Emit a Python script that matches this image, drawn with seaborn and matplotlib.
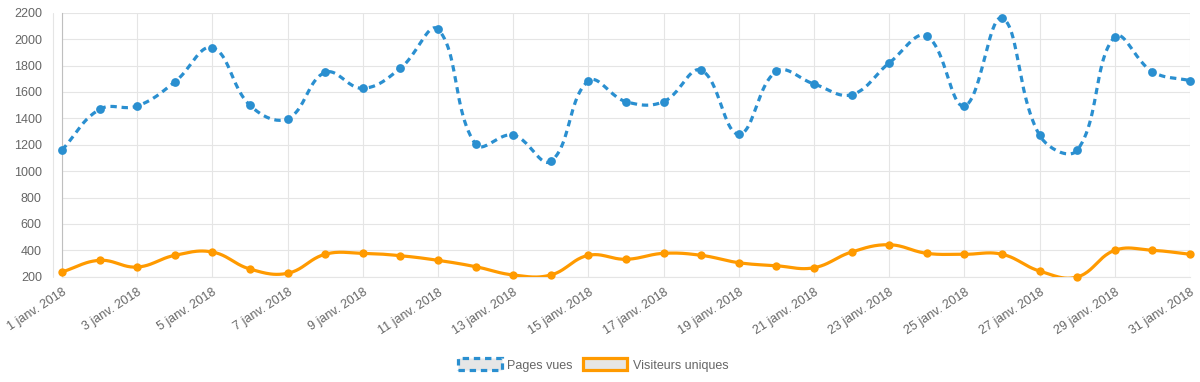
import numpy as np
import pandas as pd
import matplotlib
matplotlib.use("Agg")
import matplotlib.pyplot as plt
import seaborn as sns
from matplotlib.patches import Patch
from matplotlib.lines import Line2D

days = list(range(1, 32))
pages_vues = [1160, 1468, 1493, 1675, 1935, 1498, 1397, 1748, 1627, 1779,
              2074, 1203, 1273, 1074, 1683, 1526, 1526, 1764, 1279, 1756,
              1660, 1579, 1819, 2023, 1493, 2160, 1271, 1158, 2016, 1753, 1685]
visiteurs = [236, 324, 273, 362, 387, 258, 226, 370, 377, 359,
             324, 276, 213, 213, 362, 332, 377, 362, 306, 283,
             268, 387, 442, 377, 370, 370, 243, 198, 400, 400, 370]
tick_days = list(range(1, 32, 2))
tick_labels = [f"{d} janv. 2018" for d in tick_days]
y_ticks = list(range(200, 2201, 200))

BLUE = "#2a8fd0"
ORANGE = "#ff9a00"
GREY_TXT = "#666666"
GRID = "#e5e5e5"

sns.set_theme(style="white")
plt.rcParams["font.family"] = ["Liberation Sans", "DejaVu Sans"]

fig = plt.figure(figsize=(12, 3.82), dpi=100)
ax = fig.add_axes([62 / 1200, 105.3 / 382, (1190 - 62) / 1200, (369.3 - 105.3) / 382])
ax.set_xlim(1, 31)
ax.set_ylim(200, 2200)

# pixel scales (for chart.js-like spline tension computed in pixel space)
sx = (1190 - 62) / 30.0
sy = 264.0 / 2000.0


def spline(xs, ys, tension=0.4, n=24):
    px = np.array(xs, float) * sx
    py = np.array(ys, float) * sy
    m = len(px)
    cp_prev = np.zeros((m, 2))
    cp_next = np.zeros((m, 2))
    for i in range(m):
        p0 = (px[max(i - 1, 0)], py[max(i - 1, 0)])
        p1 = (px[i], py[i])
        p2 = (px[min(i + 1, m - 1)], py[min(i + 1, m - 1)])
        d01 = np.hypot(p1[0] - p0[0], p1[1] - p0[1])
        d12 = np.hypot(p2[0] - p1[0], p2[1] - p1[1])
        tot = d01 + d12 if d01 + d12 else 1
        fa = tension * d01 / tot
        fb = tension * d12 / tot
        cp_prev[i] = (p1[0] - fa * (p2[0] - p0[0]), p1[1] - fa * (p2[1] - p0[1]))
        cp_next[i] = (p1[0] + fb * (p2[0] - p0[0]), p1[1] + fb * (p2[1] - p0[1]))
    out_x, out_y = [], []
    t = np.linspace(0, 1, n, endpoint=False)
    for i in range(m - 1):
        P0 = np.array([px[i], py[i]])
        P1 = cp_next[i]
        P2 = cp_prev[i + 1]
        P3 = np.array([px[i + 1], py[i + 1]])
        pts = ((1 - t) ** 3)[:, None] * P0 + (3 * (1 - t) ** 2 * t)[:, None] * P1 \
            + (3 * (1 - t) * t ** 2)[:, None] * P2 + (t ** 3)[:, None] * P3
        out_x.extend(pts[:, 0])
        out_y.extend(pts[:, 1])
    out_x.append(px[-1])
    out_y.append(py[-1])
    return np.array(out_x) / sx, np.array(out_y) / sy


bx, by = spline(days, pages_vues)
ox, oy = spline(days, visiteurs)

sns.lineplot(x=ox, y=oy, sort=False, ax=ax, color=ORANGE, linewidth=2.3, zorder=3)
sns.scatterplot(x=days, y=visiteurs, ax=ax, color=ORANGE, s=36, edgecolor=ORANGE,
                linewidth=0, zorder=4, clip_on=False)
sns.lineplot(x=bx, y=by, sort=False, ax=ax, color=BLUE, linewidth=2.3, zorder=3)
ax.lines[-1].set_linestyle((0, (2.0, 1.5)))
sns.scatterplot(x=days, y=pages_vues, ax=ax, color=BLUE, s=40, edgecolor=BLUE,
                linewidth=0, zorder=4, clip_on=False)
for c in ax.collections:
    c.set_clip_on(False)

ax.set_xticks(tick_days)
ax.set_xticklabels(tick_labels, rotation=33, ha="right", rotation_mode="anchor")
ax.set_yticks(y_ticks)
ax.set_yticklabels([str(v) for v in y_ticks])
ax.tick_params(axis="both", which="both", labelsize=9, labelcolor=GREY_TXT,
               color=GRID, width=0.8, direction="out")
ax.tick_params(axis="y", length=13.5, pad=1)
ax.tick_params(axis="x", length=5, pad=2)
ax.grid(True, color=GRID, linewidth=0.8)
for s in ["top", "right"]:
    ax.spines[s].set_visible(False)
ax.spines["left"].set_color("#bfbfbf")
ax.spines["left"].set_linewidth(0.8)
ax.spines["bottom"].set_color(GRID)
ax.spines["bottom"].set_linewidth(0.8)
ax.set_xlabel("")
ax.set_ylabel("")

# faint scale border line just left of the axis (chart.js style)
xb = (53 - 62) / (1190 - 62)
ax.add_line(Line2D([xb, xb], [0, 1], transform=ax.transAxes, color=GRID,
                   linewidth=0.8, clip_on=False, zorder=0))

handles = [
    Patch(facecolor="#e6e6e6", edgecolor=BLUE, linestyle=(0, (2.0, 1.5)), linewidth=2.3,
          label="Pages vues"),
    Patch(facecolor="#e6e6e6", edgecolor=ORANGE, linewidth=2.3, label="Visiteurs uniques"),
]
leg = fig.legend(handles=handles, loc="center", bbox_to_anchor=(593 / 1200, 1 - 365 / 382),
                 ncol=2, frameon=False, fontsize=9, handlelength=3.5, handleheight=1.1,
                 handletextpad=0.45, columnspacing=0.85, labelcolor=GREY_TXT)

fig.savefig("out.png", dpi=100)
